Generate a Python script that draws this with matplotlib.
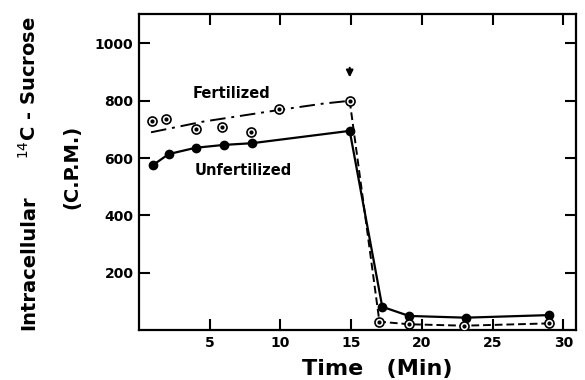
import matplotlib.pyplot as plt

# Unfertilized (filled circles, solid line)
unf_t = [1.0, 2.1, 4.0, 6.0, 8.0, 14.9, 17.2, 19.1, 23.1, 29.0]
unf_cpm = [576, 614, 636, 646, 652, 695, 81, 49, 43, 52]

# Fertilized (dotted circles)
fert_t = [0.9, 1.9, 4.0, 5.9, 7.9, 9.9, 14.9, 17.0, 19.1, 23.0, 29.0]
fert_cpm = [730, 735, 702, 707, 690, 770, 800, 29, 20, 15, 23]

# fitted curve through fertilized points before the wash (dash-dot)
fit_t = [0.85, 4.5, 9.9, 13.0, 14.9]
fit_cpm = [690, 727, 768, 790, 800]

# after the wash (dashed)
wash_t = [14.9, 17.0, 19.1, 23.0, 29.0]
wash_cpm = [800, 29, 20, 15, 23]

x_ticks = [5, 10, 15, 20, 25, 30]
y_ticks = [200, 400, 600, 800, 1000]

fig = plt.figure(figsize=(5.85, 3.8), dpi=100)
ax = fig.add_axes([0.2376, 0.1316, 0.747, 0.8316])

ax.plot(unf_t, unf_cpm, color="black", lw=1.6, marker="o", ms=6, zorder=3)
ax.plot(fit_t, fit_cpm, color="black", lw=1.4, ls=(0, (8, 3, 1.5, 3)))
ax.plot(wash_t, wash_cpm, color="black", lw=1.4, ls=(0, (4, 2)))
ax.plot(fert_t, fert_cpm, ls="none", marker="o", ms=6.5, mfc="white",
        mec="black", mew=1.2, zorder=4)
ax.plot(fert_t, fert_cpm, ls="none", marker="o", ms=2, color="black", zorder=5)

ax.text(3.8, 827, "Fertilized", fontsize=10.5, fontweight="bold", va="center")
ax.text(3.9, 558, "Unfertilized", fontsize=10.5, fontweight="bold", va="center")
ax.annotate("", xy=(14.9, 872), xytext=(14.9, 925),
            arrowprops=dict(arrowstyle="-|>", color="black", lw=1.5,
                            mutation_scale=10))

ax.set_xlim(0, 30.9)
ax.set_ylim(0, 1103)
ax.set_xticks(x_ticks)
ax.set_yticks(y_ticks)
ax.set_xticklabels([str(v) for v in x_ticks], fontsize=10, fontweight="bold")
ax.set_yticklabels([str(v) for v in y_ticks], fontsize=10, fontweight="bold")
ax.tick_params(direction="in", length=8, width=1.5, top=True, right=True, pad=4)
for s in ax.spines.values():
    s.set_linewidth(1.6)

fig.text(0.645, 0.03, "Time   (Min)", ha="center", va="center",
         fontsize=16, fontweight="bold")
fig.text(0.05, 0.31, "Intracellular", rotation=90, ha="center", va="center",
         fontsize=14, fontweight="bold")
fig.text(0.05, 0.77, "$^{14}$C - Sucrose", rotation=90, ha="center", va="center",
         fontsize=14, fontweight="bold")
fig.text(0.123, 0.56, "(C.P.M.)", rotation=90, ha="center", va="center",
         fontsize=14, fontweight="bold")

fig.savefig("out.png", dpi=100)
